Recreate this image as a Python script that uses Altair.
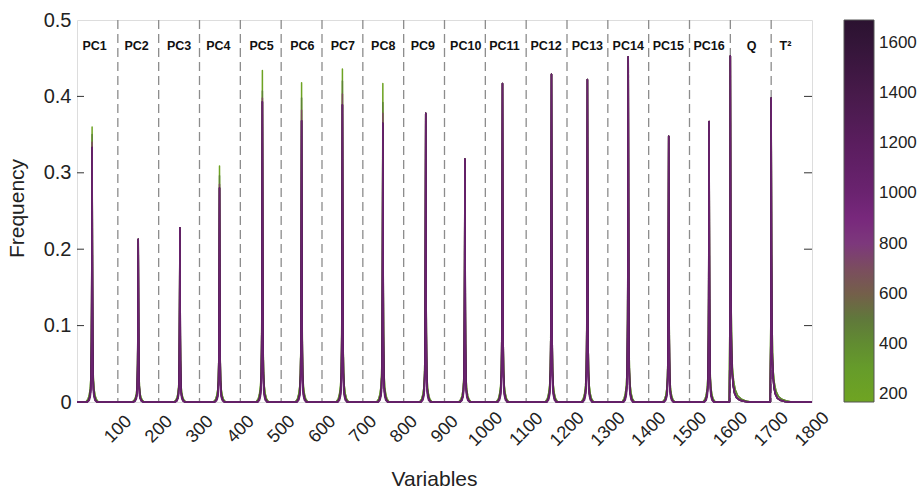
import altair as alt
import pandas as pd

# ---------------- data ----------------
segment_names = ["PC1", "PC2", "PC3", "PC4", "PC5", "PC6", "PC7", "PC8", "PC9",
                 "PC10", "PC11", "PC12", "PC13", "PC14", "PC15", "PC16", "Q", "T²"]
label_x = [43, 146, 250, 346, 452, 552, 651, 750, 847, 952, 1047, 1149,
           1250, 1350, 1448, 1548, 1652, 1735]
peak_x = [37, 150, 252, 349, 454, 550, 650, 749, 854, 950, 1042, 1162,
          1250, 1350, 1449, 1548, 1600, 1700]
divider_x = [100, 200, 300, 400, 500, 600, 700, 800, 900, 1000, 1100, 1200,
             1300, 1400, 1500, 1600, 1700]
x_tick_values = [100, 200, 300, 400, 500, 600, 700, 800, 900, 1000, 1100, 1200,
                 1300, 1400, 1500, 1600, 1700, 1800]
y_tick_values = [0, 0.1, 0.2, 0.3, 0.4, 0.5]
legend_values = [200, 400, 600, 800, 1000, 1200, 1400, 1600]

# colour value of each drawn series (drawing order: first = bottom)
color_levels = [180, 450, 700, 1500, 1250, 1020]
# peak height of each series in each segment
peaks_180 = [0.360, 0.213, 0.228, 0.309, 0.434, 0.418, 0.436, 0.417, 0.378,
             0.318, 0.417, 0.429, 0.422, 0.452, 0.348, 0.367, 0.453, 0.398]
peaks_450 = [0.350, 0.213, 0.228, 0.296, 0.407, 0.398, 0.420, 0.392, 0.378,
             0.318, 0.417, 0.429, 0.422, 0.452, 0.348, 0.367, 0.453, 0.398]
peaks_700 = [0.340, 0.213, 0.228, 0.285, 0.398, 0.382, 0.403, 0.378, 0.378,
             0.318, 0.417, 0.429, 0.422, 0.452, 0.348, 0.367, 0.453, 0.398]
peaks_1500 = [0.333, 0.213, 0.228, 0.280, 0.393, 0.368, 0.389, 0.365, 0.378,
              0.318, 0.417, 0.429, 0.422, 0.452, 0.348, 0.367, 0.453, 0.398]
peaks_1250 = [0.333, 0.213, 0.228, 0.280, 0.393, 0.368, 0.389, 0.365, 0.378,
              0.318, 0.417, 0.429, 0.422, 0.452, 0.348, 0.367, 0.453, 0.398]
peaks_1020 = [0.333, 0.213, 0.228, 0.280, 0.393, 0.368, 0.389, 0.365, 0.378,
              0.318, 0.417, 0.429, 0.422, 0.452, 0.348, 0.367, 0.453, 0.398]
series_peaks = [peaks_180, peaks_450, peaks_700, peaks_1500, peaks_1250, peaks_1020]
series_profile = ["wide", "wide", "mid", "mid", "mid", "narrow"]

# spike outlines (offset in variables, fraction of peak)
profiles = {
    "wide": ([-15, -10, -7, -4.5, -3, -2, -1, 0, 1, 2, 3, 4.5, 7, 10, 15],
             [0, 0.01, 0.025, 0.05, 0.09, 0.16, 0.38, 1, 0.38, 0.16, 0.09, 0.05, 0.025, 0.01, 0]),
    "mid": ([-12, -8, -5, -3.5, -2.5, -1.5, -0.8, 0, 0.8, 1.5, 2.5, 3.5, 5, 8, 12],
            [0, 0.008, 0.025, 0.05, 0.1, 0.24, 0.55, 1, 0.55, 0.24, 0.1, 0.05, 0.025, 0.008, 0]),
    "narrow": ([-11, -7, -4.5, -3, -2, -1.2, -0.6, 0, 0.6, 1.2, 2, 3, 4.5, 7, 11],
               [0, 0.006, 0.02, 0.04, 0.08, 0.2, 0.45, 1, 0.45, 0.2, 0.08, 0.04, 0.02, 0.006, 0]),
}
# Q and T² are skewed to the right
skew_profiles = {
    "wide": ([-3, -0.6, 0, 1, 2, 3.5, 5, 8, 12, 18, 26, 36, 50],
             [0, 0.3, 1, 0.5, 0.28, 0.16, 0.1, 0.06, 0.035, 0.018, 0.009, 0.004, 0]),
    "mid": ([-2, -0.4, 0, 0.8, 1.6, 3, 4.5, 7, 10, 15, 22, 32, 44],
            [0, 0.3, 1, 0.5, 0.26, 0.14, 0.085, 0.048, 0.027, 0.013, 0.006, 0.002, 0]),
    "narrow": ([-2, -0.4, 0, 0.8, 1.6, 3, 4.5, 7, 10, 15, 22, 32, 44],
               [0, 0.3, 1, 0.45, 0.24, 0.13, 0.08, 0.045, 0.025, 0.012, 0.006, 0.002, 0]),
}

rows = []
for lvl, pk, prof in zip(color_levels, series_peaks, series_profile):
    rows.append({"x": 0, "y": 0, "c": lvl})
    for i, (cx, h) in enumerate(zip(peak_x, pk)):
        offs, fr = skew_profiles[prof] if segment_names[i] in ("Q", "T²") else profiles[prof]
        for o, f in zip(offs, fr):
            rows.append({"x": cx + o, "y": h * f, "c": lvl})
    rows.append({"x": 1800, "y": 0, "c": lvl})
curves = pd.DataFrame(rows)

labels_df = pd.DataFrame({"x": label_x, "name": segment_names, "y": [0.466] * len(label_x)})
dividers_df = pd.DataFrame({"x": divider_x})
yt_df = pd.DataFrame({"y": [0.1, 0.2, 0.3, 0.4]})

FONT = "Liberation Sans"
W, H = 735, 382

x_scale = alt.Scale(domain=[0, 1800], nice=False, zero=False)
y_scale = alt.Scale(domain=[0, 0.5], nice=False)

color_scale = alt.Scale(
    domain=[168, 300, 450, 550, 650, 750, 850, 1000, 1200, 1400, 1692],
    range=["#6fa422", "#669c2a", "#5e8434", "#5f6c42", "#6e5a5a", "#7b4476",
           "#7e2a82", "#6b2370", "#5a1d5e", "#471a4a", "#2b1230"],
    nice=False, zero=False,
)

curves_layer = alt.Chart(curves).mark_line(strokeWidth=1.5, strokeJoin="round").encode(
    x=alt.X("x:Q", scale=x_scale,
            axis=alt.Axis(values=x_tick_values, format="d", labelAngle=-45, labelAlign="center",
                          labelBaseline="middle", labelPadding=27, ticks=False, tickSize=0,
                          domain=False, grid=False, labelFontSize=18, labelFont=FONT,
                          labelColor="#222", title="Variables", titleFont=FONT,
                          titleFontSize=21, titleFontWeight="normal", titleColor="#222",
                          titleX=357, titleY=83, titleBaseline="alphabetic",
                          titleAlign="center", labelFlush=False, labelOverlap=False)),
    y=alt.Y("y:Q", scale=y_scale,
            axis=alt.Axis(values=y_tick_values, format="~g", ticks=False, tickSize=0,
                          domain=False, grid=False, labelPadding=6, labelFontSize=20,
                          labelFont=FONT, labelColor="#222", title="Frequency",
                          titleFont=FONT, titleFontSize=21, titleFontWeight="normal",
                          titleColor="#222", titleX=-54, titleY=188,
                          titleBaseline="alphabetic", titleAlign="center", titleAngle=-90,
                          labelFlush=False)),
    color=alt.Color("c:Q", scale=color_scale,
                    legend=alt.Legend(title=None, orient="right", offset=31,
                                      gradientLength=382, gradientThickness=30,
                                      values=legend_values, format="d",
                                      labelFontSize=17, labelFont=FONT, labelColor="#222",
                                      labelOffset=5, gradientStrokeColor="#555",
                                      gradientStrokeWidth=1, padding=0,
                                      direction="vertical")),
    detail="c:N",
    order=alt.Order("x:Q"),
)

dividers = alt.Chart(dividers_df).mark_rule(
    color="#8c8c8c", strokeWidth=1.3, strokeDash=[9, 5]
).encode(x=alt.X("x:Q", scale=x_scale))

seg_labels = alt.Chart(labels_df).mark_text(
    font=FONT, fontSize=12.5, fontWeight="bold", color="#111", baseline="middle", align="center"
).encode(x=alt.X("x:Q", scale=x_scale), y=alt.Y("y:Q", scale=y_scale), text="name:N")

left_ticks = alt.Chart(yt_df).mark_rule(color="#333", strokeWidth=1).encode(
    y=alt.Y("y:Q", scale=y_scale), x=alt.value(0), x2=alt.value(7))
right_ticks = alt.Chart(yt_df).mark_rule(color="#333", strokeWidth=1).encode(
    y=alt.Y("y:Q", scale=y_scale), x=alt.value(W - 8), x2=alt.value(W))

chart = alt.layer(dividers, curves_layer, seg_labels, left_ticks, right_ticks).properties(
    width=W, height=H,
    autosize=alt.AutoSizeParams(type="none"),
    padding={"left": 77, "top": 20, "right": 921 - 77 - W, "bottom": 489 - 20 - H},
).configure_view(stroke="#333", strokeWidth=1.2).configure(background="white")

chart.save("out.html", embed_options={"renderer": "svg", "actions": False})
